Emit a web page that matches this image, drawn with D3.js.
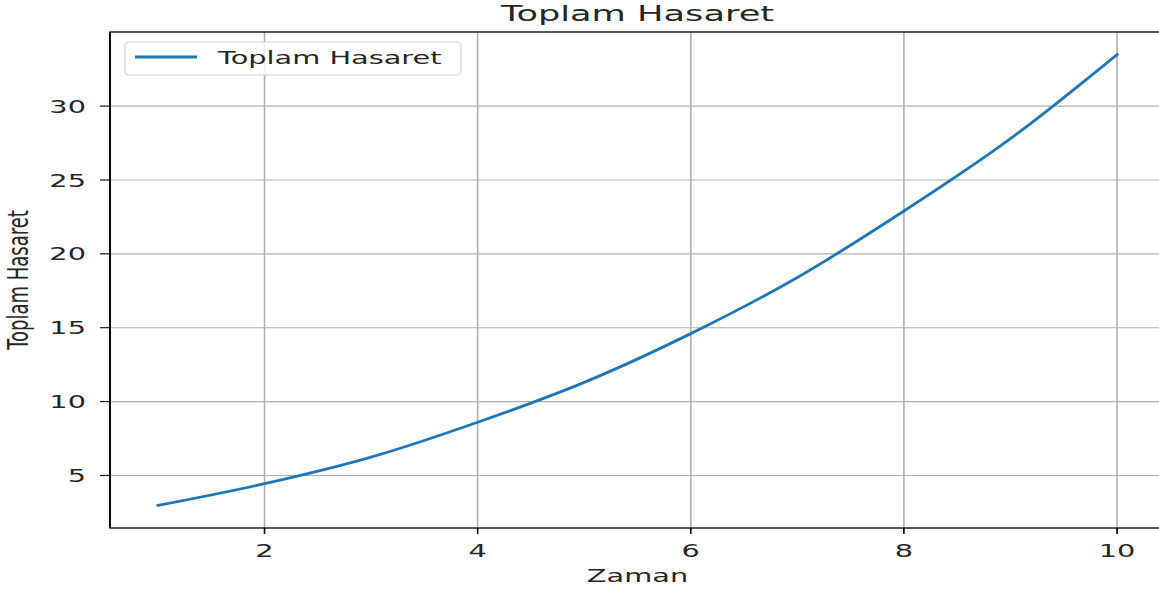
<!DOCTYPE html>
<html>
<head>
<meta charset="utf-8">
<script src="https://cdn.jsdelivr.net/npm/d3@7"></script>
<style>
  body { margin: 0; background: #fff; }
  svg { display: block; }
  text { font-family: "DejaVu Sans", sans-serif; fill: #262626; }
</style>
</head>
<body>
<svg id="chart" width="1159" height="592"></svg>
<script>
'use strict';

// values
const zaman = [1, 2, 3, 4, 5, 6, 7, 8, 9, 10];
const toplamHasaret = [2.97, 4.44, 6.24, 8.6, 11.3, 14.6, 18.4, 22.9, 27.8, 33.49];
const xTicks = [2, 4, 6, 8, 10];
const yTicks = [5, 10, 15, 20, 25, 30];
const title = 'Toplam Hasaret';
const xLabel = 'Zaman';
const yLabel = 'Toplam Hasaret';
const seriesName = 'Toplam Hasaret';

const svg = d3.select('#chart');
const stretch = 1.6;   // text in the picture is widened horizontally
const fontSize = 18;

const plotLeft = 110, plotRight = 1165, plotTop = 32, plotBottom = 528;

// matplotlib-like 5% margins
const xMin = d3.min(zaman), xMax = d3.max(zaman);
const yMin = d3.min(toplamHasaret), yMax = d3.max(toplamHasaret);
const xPad = (xMax - xMin) * 0.05, yPad = (yMax - yMin) * 0.05;

const x = d3.scaleLinear().domain([xMin - xPad, xMax + xPad]).range([plotLeft, plotRight]);
const y = d3.scaleLinear().domain([yMin - yPad, yMax + yPad]).range([plotBottom, plotTop]);

function stretchedText(g, tx, ty, str, size, anchor, rotate) {
    return g.append('text')
        .attr('transform', `translate(${tx},${ty}) scale(${stretch},1)` + (rotate ? ` rotate(${rotate})` : ''))
        .attr('text-anchor', anchor)
        .style('font-size', size + 'px')
        .text(str);
}

// grid
const grid = svg.append('g');
grid.selectAll('line.vx').data(xTicks).enter().append('line')
    .attr('x1', d => x(d)).attr('x2', d => x(d))
    .attr('y1', plotTop).attr('y2', plotBottom)
    .attr('stroke', '#b0b0b0').attr('stroke-width', 1.6);
grid.selectAll('line.hy').data(yTicks).enter().append('line')
    .attr('x1', plotLeft).attr('x2', plotRight)
    .attr('y1', d => y(d)).attr('y2', d => y(d))
    .attr('stroke', '#b0b0b0').attr('stroke-width', 1.1);

// data line
const line = d3.line()
    .x((d, i) => x(zaman[i]))
    .y(d => y(d))
    .curve(d3.curveCatmullRom);

svg.append('path')
    .datum(toplamHasaret)
    .attr('fill', 'none')
    .attr('stroke', '#1f77b4')
    .attr('stroke-width', 2.8)
    .attr('stroke-linecap', 'square')
    .attr('d', line);

// spines
svg.append('rect')
    .attr('x', plotLeft).attr('y', plotTop)
    .attr('width', plotRight - plotLeft).attr('height', plotBottom - plotTop)
    .attr('fill', 'none').attr('stroke', '#000').attr('stroke-width', 1.3);
svg.append('line')
    .attr('x1', plotLeft).attr('x2', plotLeft).attr('y1', plotTop).attr('y2', plotBottom)
    .attr('stroke', '#000').attr('stroke-width', 1.8);

// ticks and labels
const axes = svg.append('g');
xTicks.forEach(t => {
    axes.append('line')
        .attr('x1', x(t)).attr('x2', x(t))
        .attr('y1', plotBottom).attr('y2', plotBottom + 6)
        .attr('stroke', '#000').attr('stroke-width', 1.6);
    stretchedText(axes, x(t), 557, String(t), fontSize, 'middle');
});
yTicks.forEach(t => {
    axes.append('line')
        .attr('x1', plotLeft - 10).attr('x2', plotLeft)
        .attr('y1', y(t)).attr('y2', y(t))
        .attr('stroke', '#000').attr('stroke-width', 1.1);
    stretchedText(axes, 86, y(t) + 6.6, String(t), fontSize, 'end');
});

// titles
stretchedText(svg, (plotLeft + plotRight) / 2, 21, title, 22, 'middle');
stretchedText(svg, (plotLeft + plotRight) / 2, 582, xLabel, fontSize, 'middle');
stretchedText(svg, 28, (plotTop + plotBottom) / 2, yLabel, fontSize, 'middle', -90);

// legend
const legend = svg.append('g');
legend.append('rect')
    .attr('x', 125).attr('y', 42)
    .attr('width', 336).attr('height', 33)
    .attr('rx', 4)
    .attr('fill', 'rgba(255,255,255,0.8)')
    .attr('stroke', '#d0d0d0').attr('stroke-width', 1.1);
legend.append('line')
    .attr('x1', 135).attr('x2', 197)
    .attr('y1', 57).attr('y2', 57)
    .attr('stroke', '#1f77b4').attr('stroke-width', 2.8);
stretchedText(legend, 218, 63.5, seriesName, fontSize, 'start');
</script>
</body>
</html>
